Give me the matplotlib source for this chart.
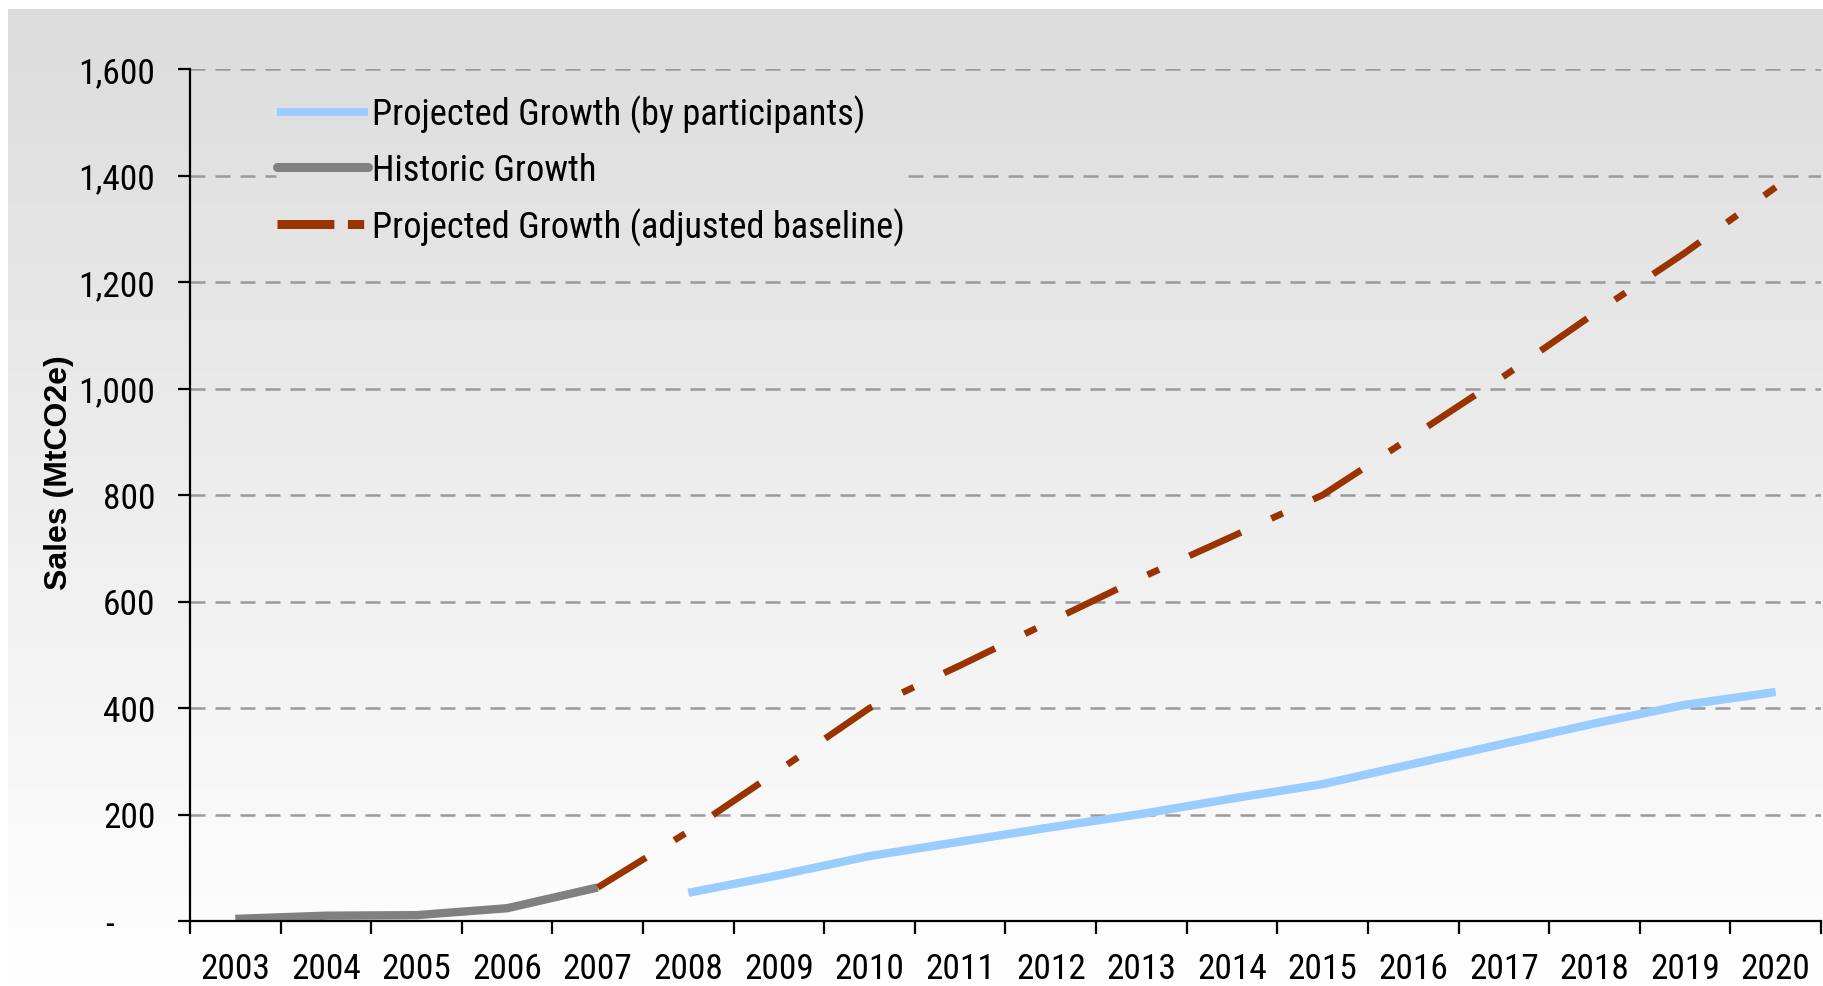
import numpy as np
import matplotlib
matplotlib.use("Agg")
import matplotlib.pyplot as plt
from matplotlib.lines import Line2D
from matplotlib import font_manager as fm

# ---- data ----
years = [str(y) for y in range(2003, 2021)]
historic_years = ["2003", "2004", "2005", "2006", "2007"]
historic = [4, 10, 11, 24, 63]
adjusted_years = [str(y) for y in range(2007, 2021)]
adjusted = [63, 168, 283, 400, 480, 563, 645, 722, 800, 911, 1023, 1141, 1255, 1378]
participants_years = [str(y) for y in range(2008, 2021)]
participants = [53, 86, 122, 149, 176, 201, 230, 257, 295, 333, 371, 406, 430]
yticks = [0, 200, 400, 600, 800, 1000, 1200, 1400, 1600]
ytick_labels = ["-     ", "200", "400", "600", "800", "1,000", "1,200", "1,400", "1,600"]
labels = ["Projected Growth (by participants)", "Historic Growth",
          "Projected Growth (adjusted baseline)"]

W, H, DPI = 1824, 987, 100

# ---- pick a narrow sans font if one is installed ----
def pick_font():
    names = {f.name for f in fm.fontManager.ttflist}
    for cand in ["Liberation Sans Narrow", "Arial Narrow", "Roboto Condensed",
                 "Open Sans Condensed", "Noto Sans Condensed"]:
        if cand in names:
            return fm.FontProperties(family=cand)
    for f in fm.fontManager.ttflist:
        if (f.name in ("Roboto", "Open Sans", "Noto Sans", "Liberation Sans", "DejaVu Sans")
                and str(f.stretch) in ("condensed", "semi-condensed", "extra-condensed", "75", "87.5")
                and str(f.weight) in ("400", "normal", "regular") and f.style == "normal"):
            return fm.FontProperties(fname=f.fname)
    return fm.FontProperties(family=["Liberation Sans", "DejaVu Sans"])

fig = plt.figure(figsize=(W / DPI, H / DPI), dpi=DPI, facecolor="white")
base_fp = pick_font()

# size so that "2003" is ~70 px wide (as in the reference)
probe = fig.text(0, 0, "2003", fontproperties=base_fp, fontsize=20)
renderer = fig.canvas.get_renderer()
w20 = probe.get_window_extent(renderer).width
probe.remove()
FS = min(20 * 70.0 / w20, 28)
fp = base_fp.copy()
fp.set_size(FS)
FSL = FS * 1.03
fpl = base_fp.copy()
fpl.set_size(FSL)
em_px = FSL * DPI / 72.0

# background gradient
bg = fig.add_axes([8 / W, 0, 1 - 8 / W, 1 - 10 / H], zorder=-10)
grad = np.linspace(220, 255, 256).reshape(-1, 1) / 255.0
bg.imshow(np.dstack([grad, grad, grad]), aspect="auto", extent=[0, 1, 0, 1], origin="upper")
bg.set_axis_off()

ax = fig.add_axes([190 / W, 65 / H, (1821 - 190) / W, (922 - 70) / H])
ax.patch.set_alpha(0)

pos = {y: i + 0.5 for i, y in enumerate(years)}

BLUE = "#99ccff"
GRAY = "#808080"
BROWN = "#993300"

ax.plot([pos[y] for y in participants_years], participants, color=BLUE, lw=6,
        solid_capstyle="butt", solid_joinstyle="round", zorder=3)
ax.plot([pos[y] for y in historic_years], historic, color=GRAY, lw=6,
        solid_capstyle="butt", solid_joinstyle="round", zorder=3)
ax.plot([pos[y] for y in adjusted_years], adjusted, color=BROWN, lw=4.8,
        linestyle=(0, (8.5, 5, 1.9, 5)), dash_capstyle="butt", zorder=4)

ax.set_xlim(0, len(years))
ax.set_ylim(0, 1600)

# grid (the 1400 line is hidden behind the legend area)
grid_style = dict(color="#9a9a9a", lw=1.8, linestyle=(0, (6, 4)), zorder=1)
for v in yticks[1:]:
    if v == 1400:
        ax.axhline(v, xmin=0, xmax=0.95 / len(years), **grid_style)
        ax.axhline(v, xmin=7.92 / len(years), xmax=1, **grid_style)
    else:
        ax.axhline(v, **grid_style)

for s in ["top", "right"]:
    ax.spines[s].set_visible(False)
for s in ["left", "bottom"]:
    ax.spines[s].set_linewidth(1.6)
    ax.spines[s].set_zorder(5)

ax.set_yticks(yticks)
ax.set_yticklabels(ytick_labels, fontproperties=fp)
ax.tick_params(axis="y", direction="out", length=9, width=1.6, pad=16)

ax.set_xticks(range(len(years) + 1))
ax.set_xticklabels([])
ax.tick_params(axis="x", which="major", direction="out", length=9, width=1.6)
ax.set_xticks([pos[y] for y in years], minor=True)
ax.set_xticklabels(years, minor=True, fontproperties=fp)
ax.tick_params(axis="x", which="minor", length=0, pad=22)

ax.set_ylabel("Sales (MtCO2e)", fontsize=23, fontweight="bold",
              family=["Liberation Sans", "DejaVu Sans"])
ax.yaxis.set_label_coords((74 - 190) / 1631, 0.527)

handles = [
    Line2D([], [], color=BLUE, lw=5.5, solid_capstyle="butt"),
    Line2D([], [], color=GRAY, lw=6.5, solid_capstyle="round"),
    Line2D([], [], color=BROWN, lw=6.5, linestyle=(0.3, (6.6, 1.5, 1.8, 10)), dash_capstyle="butt"),
]
text_h = 0.946 * em_px
leg = ax.legend(handles, labels, loc="upper left", prop=fpl,
                bbox_to_anchor=(270 / W, 1 - (113 - text_h / 2 - 0.2 * em_px) / H),
                bbox_transform=fig.transFigure,
                frameon=False, handlelength=91 / em_px, handletextpad=0.1,
                labelspacing=(53.5 - text_h) / em_px, borderpad=0.2, borderaxespad=0)
leg.set_zorder(2)

fig.savefig("out.png", dpi=DPI, facecolor="white")
